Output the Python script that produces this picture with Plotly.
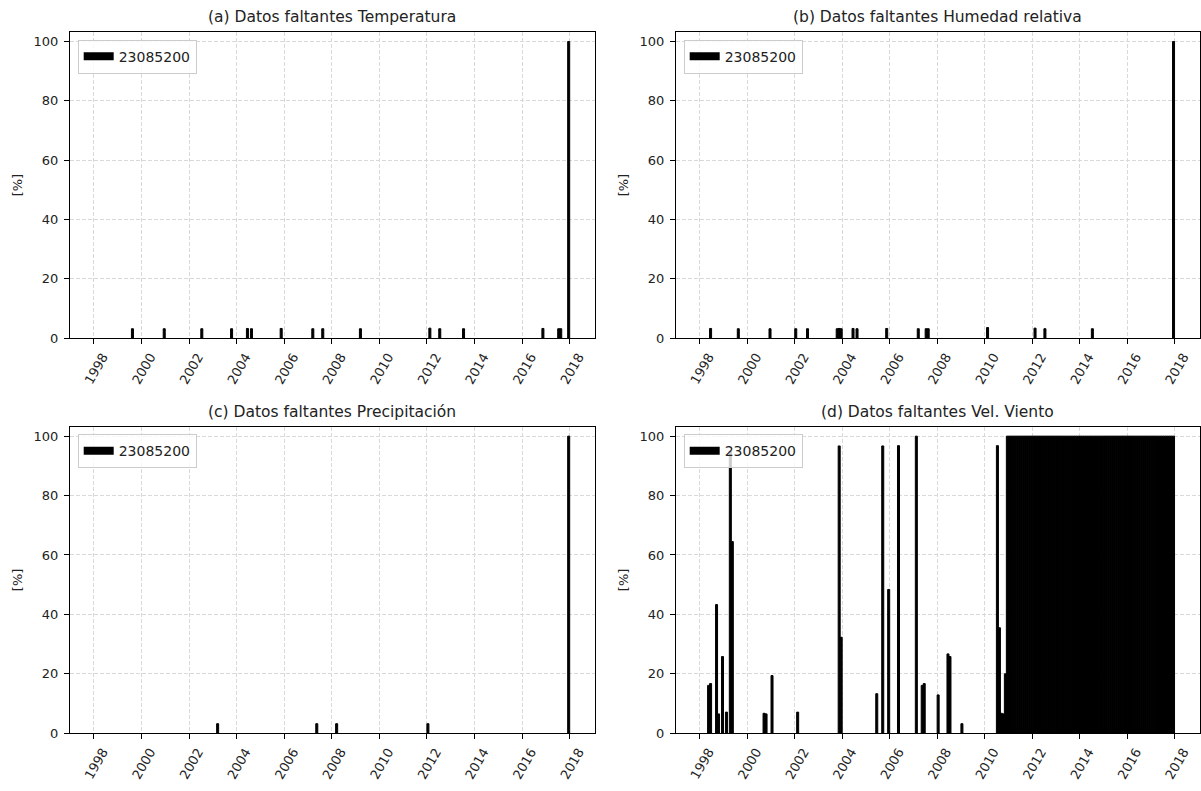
import plotly.graph_objects as go

# ---------------- data ----------------
estacion = "23085200"
titulos = [
    "(a) Datos faltantes Temperatura",
    "(b) Datos faltantes Humedad relativa",
    "(c) Datos faltantes Precipitación",
    "(d) Datos faltantes Vel. Viento",
]

# (a) Temperatura: months with missing data and % missing
temp_meses = ["1999-08", "2000-12", "2002-07", "2003-10", "2004-06", "2004-08",
              "2005-11", "2007-03", "2007-08", "2009-03", "2012-02", "2012-07",
              "2013-07", "2016-11", "2017-07", "2017-08", "2017-12"]
temp_pct = [3.2, 3.2, 3.2, 3.2, 3.3, 3.2, 3.3, 3.2, 3.2, 3.2, 3.4, 3.2,
            3.2, 3.3, 3.2, 3.2, 100.0]

# (b) Humedad relativa
hum_meses = ["1998-06", "1999-08", "2000-12", "2002-01", "2002-07", "2003-10",
             "2003-11", "2003-12", "2004-06", "2004-08", "2005-11", "2007-03",
             "2007-07", "2007-08", "2010-02", "2012-02", "2012-07", "2014-07",
             "2017-12"]
hum_pct = [3.3, 3.2, 3.2, 3.2, 3.2, 3.2, 3.3, 3.2, 3.3, 3.2, 3.3, 3.2,
           3.2, 3.2, 3.6, 3.4, 3.2, 3.2, 100.0]

# (c) Precipitación
prec_meses = ["2003-03", "2007-05", "2008-03", "2012-01", "2017-12"]
prec_pct = [3.2, 3.2, 3.2, 3.2, 100.0]

# (d) Velocidad del viento: one row per year (Jan..Dec)
viento_anios = list(range(1998, 2018))
viento_pct = [
    [0, 0, 0, 0, 16.1, 16.7, 0, 0, 43.3, 6.5, 0, 25.8],          # 1998
    [0, 7.1, 0, 95.0, 64.5, 0, 0, 0, 0, 0, 0, 0],                # 1999
    [0, 0, 0, 0, 0, 0, 0, 0, 6.7, 6.5, 0, 0],                    # 2000
    [19.4, 0, 0, 0, 0, 0, 0, 0, 0, 0, 0, 0],                     # 2001
    [0, 7.1, 0, 0, 0, 0, 0, 0, 0, 0, 0, 0],                      # 2002
    [0, 0, 0, 0, 0, 0, 0, 0, 0, 0, 96.7, 32.3],                  # 2003
    [0, 0, 0, 0, 0, 0, 0, 0, 0, 0, 0, 0],                        # 2004
    [0, 0, 0, 0, 0, 13.3, 0, 0, 96.7, 0, 0, 48.4],               # 2005
    [0, 0, 0, 0, 96.8, 0, 0, 0, 0, 0, 0, 0],                     # 2006
    [0, 100.0, 0, 0, 16.1, 16.7, 0, 0, 0, 0, 0, 0],              # 2007
    [12.9, 0, 0, 0, 0, 26.7, 25.8, 0, 0, 0, 0, 0],               # 2008
    [3.2, 0, 0, 0, 0, 0, 0, 0, 0, 0, 0, 0],                      # 2009
    [0, 0, 0, 0, 0, 0, 96.8, 35.5, 6.7, 6.5, 20.0, 100.0],       # 2010
    [100, 100, 100, 100, 100, 100, 100, 100, 100, 100, 100, 100],  # 2011
    [100, 100, 100, 100, 100, 100, 100, 100, 100, 100, 100, 100],  # 2012
    [100, 100, 100, 100, 100, 100, 100, 100, 100, 100, 100, 100],  # 2013
    [100, 100, 100, 100, 100, 100, 100, 100, 100, 100, 100, 100],  # 2014
    [100, 100, 100, 100, 100, 100, 100, 100, 100, 100, 100, 100],  # 2015
    [100, 100, 100, 100, 100, 100, 100, 100, 100, 100, 100, 100],  # 2016
    [100, 100, 100, 100, 100, 100, 100, 100, 100, 100, 100, 100],  # 2017
]

tick_years = list(range(1998, 2019, 2))
y_ticks = [0, 20, 40, 60, 80, 100]

# ---------------- build ----------------
viento_meses, viento_vals = [], []
for anio, fila in zip(viento_anios, viento_pct):
    for mes, v in enumerate(fila, start=1):
        if v > 0:
            viento_meses.append(f"{anio}-{mes:02d}")
            viento_vals.append(v)

series = [(temp_meses, temp_pct), (hum_meses, hum_pct),
          (prec_meses, prec_pct), (viento_meses, viento_vals)]

W, H = 1201, 791
# axes boxes in pixels (left, right, top, bottom)
cols = [(70, 594.7), (676, 1199.5)]
rows = [(32.3, 341.7), (431, 740.7)]

FONT = "DejaVu Sans"
TXT = "#222222"
GRID = "#d9d9d9"
MONTH_MS = 31 * 24 * 3600 * 1000

fig = go.Figure()
layout = dict(
    width=W, height=H,
    margin=dict(l=0, r=0, t=0, b=0),
    paper_bgcolor="white", plot_bgcolor="white",
    font=dict(family=FONT, size=13, color=TXT),
    showlegend=True,
    annotations=[],
)

for i, (meses, vals) in enumerate(series):
    r, c = divmod(i, 2)
    x0, x1 = cols[c]
    y0, y1 = rows[r]
    ax = "" if i == 0 else str(i + 1)
    lg = "legend" if i == 0 else f"legend{i + 1}"
    fig.add_trace(go.Bar(
        x=meses, y=vals, xperiod="M1", xperiodalignment="middle",
        width=MONTH_MS,
        marker=dict(color="black", line=dict(color="black", width=1)),
        name=estacion, showlegend=False, legendgroup=f"g{i}",
        xaxis="x" + ax, yaxis="y" + ax,
    ))
    # legend entry drawn as a flat patch like the original
    fig.add_trace(go.Scatter(
        x=[None], y=[None], mode="lines",
        line=dict(color="black", width=8),
        name=estacion, legendgroup=f"g{i}", legend=lg,
        xaxis="x" + ax, yaxis="y" + ax, hoverinfo="skip",
    ))
    layout["xaxis" + ax] = dict(
        domain=[x0 / W, x1 / W], anchor="y" + ax,
        type="date", range=["1996-12-31", "2019-01-20"],
        tickvals=[f"{y}-01-01" for y in tick_years],
        ticktext=[str(y) for y in tick_years],
        tickangle=-60, ticklabelshift=9,
        ticks="outside", ticklen=5, tickcolor="black", tickwidth=1,
        showline=True, linecolor="black", linewidth=1, mirror=True,
        showgrid=True, gridcolor=GRID, griddash="4px,2px", gridwidth=1,
        zeroline=False, tickfont=dict(size=13, color=TXT),
    )
    layout["yaxis" + ax] = dict(
        domain=[1 - y1 / H, 1 - y0 / H], anchor="x" + ax,
        range=[0, 103.2], tickvals=y_ticks,
        ticks="outside", ticklen=5, tickcolor="black", tickwidth=1,
        showline=True, linecolor="black", linewidth=1, mirror=True,
        showgrid=True, gridcolor=GRID, griddash="4px,2px", gridwidth=1,
        zeroline=False, tickfont=dict(size=13, color=TXT),
        title=dict(text="[%]", standoff=8, font=dict(size=13, color=TXT)),
        ticklabelstandoff=3,
    )
    layout[lg] = dict(
        x=(x0 + 7.7) / W, y=1 - (y0 + 7.7) / H,
        xanchor="left", yanchor="top",
        bgcolor="rgba(255,255,255,0.8)", bordercolor="#cccccc", borderwidth=1,
        font=dict(family=FONT, size=14, color=TXT),
        itemwidth=30,
    )
    layout["annotations"].append(dict(
        text=titulos[i], xref="paper", yref="paper",
        x=(x0 + x1) / 2 / W, y=1 - (y0 - 4) / H,
        xanchor="center", yanchor="bottom", showarrow=False,
        font=dict(family=FONT, size=15.5, color=TXT),
    ))

fig.update_layout(**layout)
fig.write_html(
    "out.html",
    config={"displayModeBar": False},
    post_script="document.body.style.margin='0px';document.body.style.overflow='hidden';",
)
